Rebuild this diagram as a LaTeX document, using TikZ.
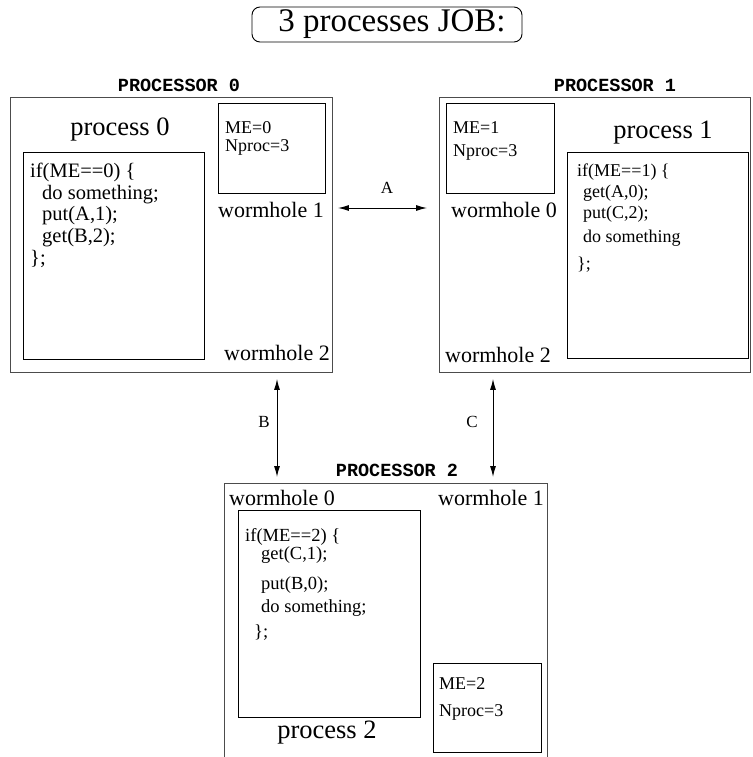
\documentclass[tikz,border=0pt]{standalone}
\usepackage{fontspec}
\setmainfont{Liberation Serif}
\newfontfamily\cpufont{Liberation Mono}
\usetikzlibrary{arrows.meta}

\tikzset{
  cpubox/.style={draw=black!70, line width=0.9pt, anchor=north west, inner sep=0pt},
  membox/.style={draw, line width=1.4pt, anchor=north west, inner sep=0pt},
  cpuname/.style={font=\cpufont\bfseries\fontsize{18.5pt}{20pt}\selectfont},
  procname/.style={font=\fontsize{26.5pt}{30pt}\selectfont},
  hole/.style={font=\fontsize{22pt}{24pt}\selectfont},
  code/.style={anchor=north west, align=left, inner sep=0pt},
  metxt/.style={anchor=base west, inner sep=0pt, font=\fontsize{18pt}{20pt}\selectfont},
  link/.style={{Latex[length=11pt,width=6pt]}-{Latex[length=11pt,width=6pt]}, line width=1pt},
  lbl/.style={font=\fontsize{17pt}{19pt}\selectfont},
}

\begin{document}
\begin{tikzpicture}[x=1pt, y=-1pt]
  \useasboundingbox (0,0) rectangle (752,757);
  % title
  \node[draw, line width=0.9pt, rounded corners=8pt, minimum width=270pt, minimum height=35pt, inner sep=0pt, font=\fontsize{33pt}{36pt}\selectfont] (job) at (387,24.5) {\hspace*{10pt}3 processes JOB:};
  % processor 0
  \node[cpubox, minimum width=322pt, minimum height=275pt] (p0) at (10,97) {};
  \node[cpuname] (p0name) at (179,85) {PROCESSOR 0};
  \node[membox, minimum width=107pt, minimum height=90pt] (me0) at (218,103) {};
  \node[metxt] (me0a) at (225,134) {ME=0};
  \node[metxt] (me0b) at (225,151) {Nproc=3};
  \node[procname] (proc0) at (120,130) {process 0};
  \node[membox, minimum width=181pt, minimum height=207pt] (box0) at (23,152) {};
  \node[code, font=\fontsize{20.5pt}{21.7pt}\selectfont] (code0) at (30,162.7)
    {if(ME==0) \{\\\hspace*{12pt}do something;\\\hspace*{12pt}put(A,1);\\\hspace*{12pt}get(B,2);\\\};};
  \node[hole] (wh01) at (271,210) {wormhole 1};
  \node[hole] (wh02) at (277,353) {wormhole 2};
  % processor 1
  \node[cpubox, minimum width=311pt, minimum height=275pt] (p1) at (439,97) {};
  \node[cpuname] (p1name) at (615,85) {PROCESSOR 1};
  \node[membox, minimum width=108pt, minimum height=90pt] (me1) at (446,103) {};
  \node[metxt] (me1a) at (453,133) {ME=1};
  \node[metxt] (me1b) at (453,156) {Nproc=3};
  \node[procname] (proc1) at (663,133) {process 1};
  \node[membox, minimum width=181pt, minimum height=206pt] (box1) at (567,152) {};
  \node[code, font=\fontsize{18pt}{21pt}\selectfont] (code1) at (577,163.5)
    {if(ME==1) \{\\\hspace*{6pt}get(A,0);\\\hspace*{6pt}put(C,2);\\[3pt]\hspace*{6pt}do something\\[5.7pt]\};};
  \node[hole] (wh10) at (504,210) {wormhole 0};
  \node[hole] (wh12) at (498,355) {wormhole 2};
  % processor 2
  \node[cpubox, minimum width=323pt, minimum height=290pt] (p2) at (224,483) {};
  \node[cpuname] (p2name) at (397,470) {PROCESSOR 2};
  \node[hole] (wh20) at (282,498) {wormhole 0};
  \node[hole] (wh21) at (491,498) {wormhole 1};
  \node[membox, minimum width=182pt, minimum height=207pt] (box2) at (238,510) {};
  \node[code, font=\fontsize{18.5pt}{17.7pt}\selectfont] (code2) at (245,528.4)
    {if(ME==2) \{\\\hspace*{16pt}get(C,1);\\[12.3pt]\hspace*{16pt}put(B,0);\\[5.6pt]\hspace*{16pt}do something;\\[7pt]\hspace*{9pt}\};};
  \node[membox, minimum width=108pt, minimum height=89pt] (me2) at (433,663) {};
  \node[metxt] (me2a) at (439,689) {ME=2};
  \node[metxt] (me2b) at (439,716) {Nproc=3};
  \node[procname] (proc2) at (327,733) {process 2};
  % links
  \coordinate (ay) at (0,208);
  \coordinate (bx) at (277,0);
  \coordinate (cx) at (493,0);
  \draw[link, shorten <=5pt, shorten >=12pt] (p0.east |- ay) -- (p1.west |- ay);
  \draw[link, shorten <=6pt, shorten >=6pt] (p0.south -| bx) -- (p2.north -| bx);
  \draw[link, shorten <=6pt, shorten >=6pt] (p1.south -| cx) -- (p2.north -| cx);
  \node[lbl] (labA) at (387,188) {A};
  \node[lbl] (labB) at (264,422) {B};
  \node[lbl] (labC) at (472,422) {C};
\end{tikzpicture}
\end{document}
